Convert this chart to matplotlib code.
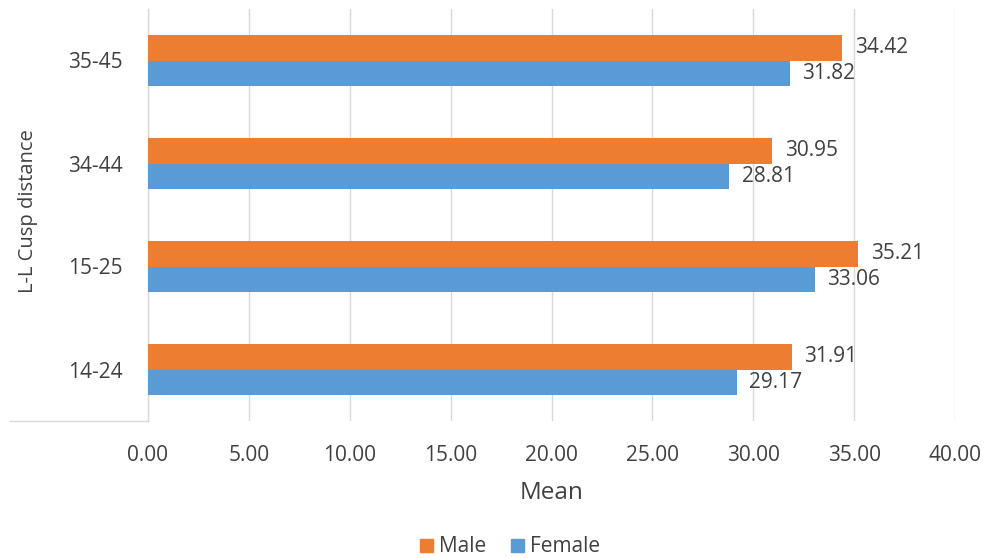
import numpy as np
import matplotlib.pyplot as plt
from matplotlib.lines import Line2D
from matplotlib.patches import Patch

plt.rcParams['font.family'] = ['Open Sans', 'DejaVu Sans']

groups = ['14-24', '15-25', '34-44', '35-45']
male = [31.91, 35.21, 30.95, 34.42]
female = [29.17, 33.06, 28.81, 31.82]

orange = '#ED7D31'
blue = '#5B9BD5'
text_col = '#404040'
grid_col = '#D9D9D9'

fig = plt.figure(figsize=(9.84, 5.58), dpi=100)
ax = fig.add_axes([148 / 984, 1 - 421 / 558, (955 - 148) / 984, (421 - 9) / 558])

y = np.arange(len(groups))
h = 0.25
ax.barh(y + h / 2, male, height=h, color=orange, label='Male', zorder=3)
ax.barh(y - h / 2, female, height=h, color=blue, label='Female', zorder=3)

# value labels to the right of each bar
for i in range(len(groups)):
    ax.annotate(f'{male[i]:.2f}', (male[i], y[i] + h / 2), xytext=(9, 0),
                textcoords='offset points', va='center', ha='left',
                fontsize=15, color=text_col)
    ax.annotate(f'{female[i]:.2f}', (female[i], y[i] - h / 2), xytext=(9, 0),
                textcoords='offset points', va='center', ha='left',
                fontsize=15, color=text_col)

ax.set_xlim(0, 40)
ax.set_ylim(-0.5, len(groups) - 0.5)
ax.set_xticks(np.arange(0, 41, 5))
ax.set_xticklabels([f'{v:.2f}' for v in np.arange(0, 41, 5)])
ax.set_yticks(y)
ax.set_yticklabels(groups)
ax.tick_params(axis='x', length=0, pad=17, labelsize=15, colors=text_col)
ax.tick_params(axis='y', length=0, pad=18, labelsize=15, colors=text_col)
ax.xaxis.grid(True, color=grid_col, linewidth=1, zorder=0)

for s in ['top', 'right', 'bottom']:
    ax.spines[s].set_visible(False)
ax.spines['left'].set_color(grid_col)
ax.spines['left'].set_linewidth(1)

# bottom edge of the category axis, running under the labels
fig.add_artist(Line2D([10 / 984, 148 / 984], [1 - 421 / 558, 1 - 421 / 558],
                      color=grid_col, linewidth=1))

ax.set_xlabel('Mean', fontsize=17.5, color=text_col)
ax.xaxis.label.set_va('center')
ax.xaxis.set_label_coords(0.5, (421 - 493) / 412)
ax.set_ylabel('L-L Cusp distance', fontsize=14.5, color=text_col)
ax.yaxis.label.set_va('center')
ax.yaxis.set_label_coords((28 - 148) / 807, 0.51)

handles = [Patch(color=orange, label='Male'), Patch(color=blue, label='Female')]
fig.legend(handles=handles, loc='center', bbox_to_anchor=(510 / 984, 1 - 547 / 558),
           ncol=2, frameon=False, fontsize=15, handlelength=0.6, handleheight=0.6,
           handletextpad=0.3, columnspacing=1.2, labelcolor=text_col)

fig.savefig('out.png', dpi=100)
